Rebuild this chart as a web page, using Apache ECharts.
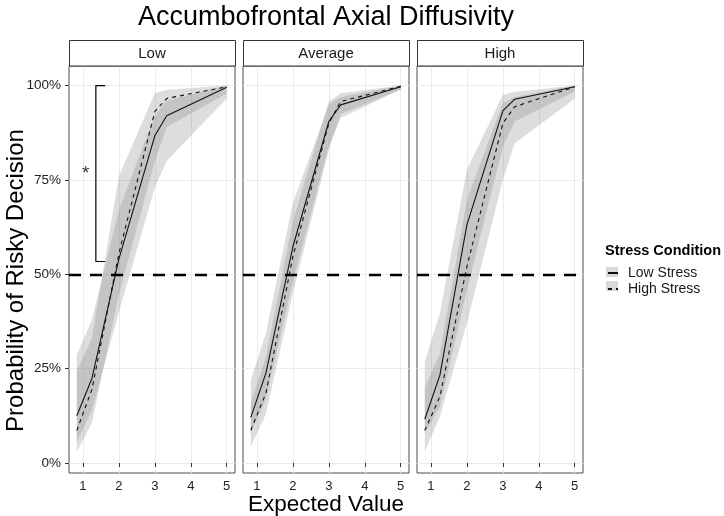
<!DOCTYPE html>
<html><head><meta charset="utf-8">
<script src="https://cdn.jsdelivr.net/npm/echarts@6/dist/echarts.min.js"></script>
<style>html,body{margin:0;padding:0;background:#fff}#c{width:724px;height:516px}</style>
</head><body><div id="c"></div>
<script>
// ---------- data ----------
const panelNames = ['Low', 'Average', 'High'];
const expectedValues = [0.83, 1.25, 2, 3, 3.33, 5];
const xTicks = [1, 2, 3, 4, 5];
const yTicks = [0, 0.25, 0.5, 0.75, 1];
const seriesNames = ['Low Stress', 'High Stress'];

// Low panel
const lowPanelLowStress      = [0.125, 0.224, 0.540, 0.867, 0.920, 0.996];
const lowPanelLowStressLo    = [0.056, 0.140, 0.400, 0.730, 0.800, 0.966];
const lowPanelLowStressHi    = [0.286, 0.380, 0.670, 0.920, 0.960, 1.000];
const lowPanelHighStress     = [0.086, 0.195, 0.555, 0.931, 0.966, 0.997];
const lowPanelHighStressLo   = [0.030, 0.106, 0.446, 0.800, 0.890, 0.980];
const lowPanelHighStressHi   = [0.246, 0.330, 0.760, 0.980, 0.989, 1.000];
// Average panel
const avgPanelLowStress      = [0.121, 0.238, 0.573, 0.905, 0.949, 0.997];
const avgPanelLowStressLo    = [0.080, 0.170, 0.480, 0.840, 0.914, 0.990];
const avgPanelLowStressHi    = [0.220, 0.344, 0.689, 0.950, 0.970, 1.000];
const avgPanelHighStress     = [0.087, 0.185, 0.547, 0.900, 0.958, 0.998];
const avgPanelHighStressLo   = [0.043, 0.130, 0.450, 0.830, 0.925, 0.990];
const avgPanelHighStressHi   = [0.159, 0.280, 0.640, 0.958, 0.980, 1.000];
// High panel
const highPanelLowStress     = [0.116, 0.233, 0.631, 0.933, 0.964, 0.997];
const highPanelLowStressLo   = [0.079, 0.150, 0.458, 0.838, 0.905, 0.985];
const highPanelLowStressHi   = [0.269, 0.397, 0.777, 0.975, 0.984, 1.000];
const highPanelHighStress    = [0.086, 0.176, 0.520, 0.900, 0.944, 0.997];
const highPanelHighStressLo  = [0.030, 0.123, 0.370, 0.750, 0.847, 0.965];
const highPanelHighStressHi  = [0.199, 0.290, 0.697, 0.953, 0.970, 1.000];

const referenceLine = 0.5;
// significance bracket in the Low panel
const bracketX = [1.62, 1.36, 1.36, 1.62];
const bracketY = [1.0, 1.0, 0.534, 0.534];
const starPoint = [1.08, 0.777];

// ---------- layout ----------
const FONT = '"Liberation Sans", Arial, Helvetica, sans-serif';
const gridLefts = [69, 243, 417];
const gridW = 166, gridTop = 66, gridH = 407;
const xMin = 0.613, xMax = 5.23, yMin = -0.0265, yMax = 1.052;

const panelData = [
  [lowPanelLowStress, lowPanelLowStressLo, lowPanelLowStressHi, lowPanelHighStress, lowPanelHighStressLo, lowPanelHighStressHi],
  [avgPanelLowStress, avgPanelLowStressLo, avgPanelLowStressHi, avgPanelHighStress, avgPanelHighStressLo, avgPanelHighStressHi],
  [highPanelLowStress, highPanelLowStressLo, highPanelLowStressHi, highPanelHighStress, highPanelHighStressLo, highPanelHighStressHi]
];

function ribbon(i, lo, hi) {
  const data = expectedValues.map((x, k) => [x, lo[k], hi[k]]);
  return {
    type: 'custom', xAxisIndex: i, yAxisIndex: i, silent: true, z: 1,
    data: data, encode: { x: 0, y: [1, 2] },
    renderItem: function (params, api) {
      if (params.dataIndex !== 0) return null;
      const top = data.map(d => api.coord([d[0], d[2]]));
      const bot = data.map(d => api.coord([d[0], d[1]])).reverse();
      return { type: 'polygon', shape: { points: top.concat(bot) },
               style: { fill: 'rgba(128,128,128,0.27)' } };
    }
  };
}

const grids = [], xAxes = [], yAxes = [], series = [], graphics = [];
panelNames.forEach((name, i) => {
  grids.push({ left: gridLefts[i], top: gridTop, width: gridW, height: gridH,
    containLabel: false, outerBoundsMode: 'none',
    show: true, borderColor: '#4d4d4d', borderWidth: 1, backgroundColor: '#fff' });
  xAxes.push({
    type: 'value', gridIndex: i, min: xMin, max: xMax,
    axisLine: { show: false },
    axisTick: { show: true, length: 4, customValues: xTicks, lineStyle: { color: '#333' } },
    axisLabel: { customValues: xTicks, color: '#222', fontSize: 13, margin: 7, fontFamily: FONT },
    splitLine: { show: true, lineStyle: { color: '#ebebeb', width: 1 } },
    name: i === 1 ? 'Expected Value' : '', nameLocation: 'middle', nameGap: 20, nameMoveOverlap: false,
    nameTextStyle: { fontSize: 22.5, color: '#000', fontFamily: FONT }
  });
  yAxes.push({
    type: 'value', gridIndex: i, min: yMin, max: yMax,
    axisLine: { show: false },
    axisTick: { show: i === 0, length: 4, customValues: yTicks, lineStyle: { color: '#333' } },
    axisLabel: { show: i === 0, customValues: yTicks, color: '#222', fontSize: 13.5, margin: 8, fontFamily: FONT,
      formatter: v => Math.round(v * 100) + '%' },
    splitLine: { show: true, lineStyle: { color: '#ebebeb', width: 1 } },
    name: i === 0 ? 'Probability of Risky Decision' : '', nameLocation: 'middle', nameGap: 41, nameRotate: 90,
    nameMoveOverlap: false,
    nameTextStyle: { fontSize: 24, color: '#000', fontFamily: FONT, padding: [0, 22, 0, 0] }
  });
  const d = panelData[i];
  series.push(ribbon(i, d[1], d[2]));
  series.push(ribbon(i, d[4], d[5]));
  series.push({
    type: 'line', name: seriesNames[0], xAxisIndex: i, yAxisIndex: i, z: 3, silent: true,
    data: expectedValues.map((x, k) => [x, d[0][k]]), symbol: 'none',
    itemStyle: { color: '#111' }, lineStyle: { color: '#111', width: 1.1, type: 'solid' },
    markLine: { silent: true, symbol: 'none', label: { show: false },
      lineStyle: { color: '#000', width: 2.4, type: [12, 9] }, data: [{ yAxis: referenceLine }] }
  });
  series.push({
    type: 'line', name: seriesNames[1], xAxisIndex: i, yAxisIndex: i, z: 3, silent: true,
    data: expectedValues.map((x, k) => [x, d[3][k]]), symbol: 'none',
    itemStyle: { color: '#111' }, lineStyle: { color: '#111', width: 1.1, type: [4, 4] }
  });
  graphics.push({ type: 'rect', z: 10, shape: { x: gridLefts[i] + 0.5, y: 40.5, width: gridW, height: 25.5 },
    style: { fill: '#fff', stroke: '#333', lineWidth: 1 } });
  graphics.push({ type: 'text', z: 11, style: { text: name, x: gridLefts[i] + gridW / 2, y: 53.5,
    textAlign: 'center', textVerticalAlign: 'middle', font: '15px ' + FONT, fill: '#1a1a1a' } });
});

series.push({
  type: 'line', name: 'bracket', xAxisIndex: 0, yAxisIndex: 0, z: 4, silent: true, symbol: 'none',
  data: bracketX.map((x, k) => [x, bracketY[k]]), lineStyle: { color: '#000', width: 1.2 }
});
series.push({
  type: 'scatter', name: 'star', xAxisIndex: 0, yAxisIndex: 0, z: 4, silent: true, symbolSize: 0,
  data: [starPoint], label: { show: true, position: 'inside', formatter: '*', fontSize: 19, color: '#000', fontFamily: FONT, offset: [0, 4] }
});

graphics.push({ type: 'text', style: { text: 'Accumbofrontal Axial Diffusivity', x: 326, y: 18,
  textAlign: 'center', textVerticalAlign: 'middle', font: '27px ' + FONT, fill: '#000' } });
graphics.push({ type: 'text', style: { text: 'Stress Condition', x: 605, y: 251,
  textAlign: 'left', textVerticalAlign: 'middle', font: 'bold 14.5px ' + FONT, fill: '#000' } });
graphics.push({ type: 'rect', z: 5, shape: { x: 606, y: 267, width: 12, height: 10 }, style: { fill: '#d9d9d9' } });
graphics.push({ type: 'rect', z: 5, shape: { x: 606, y: 281, width: 12, height: 10 }, style: { fill: '#d9d9d9' } });

const option = {
  backgroundColor: '#fff',
  animation: false,
  grid: grids, xAxis: xAxes, yAxis: yAxes, series: series,
  legend: {
    z: 8,
    data: seriesNames, orient: 'vertical', left: 607, top: 266, itemWidth: 10, itemHeight: 10, itemGap: 2,
    padding: 0, itemStyle: { opacity: 0 },
    textStyle: { fontSize: 14, lineHeight: 12, color: '#1a1a1a', fontFamily: FONT, padding: [0, 0, 0, 5] },
    selectedMode: false
  },
  graphic: graphics
};
const chart = echarts.init(document.getElementById('c'));
chart.setOption(option);
</script></body></html>
